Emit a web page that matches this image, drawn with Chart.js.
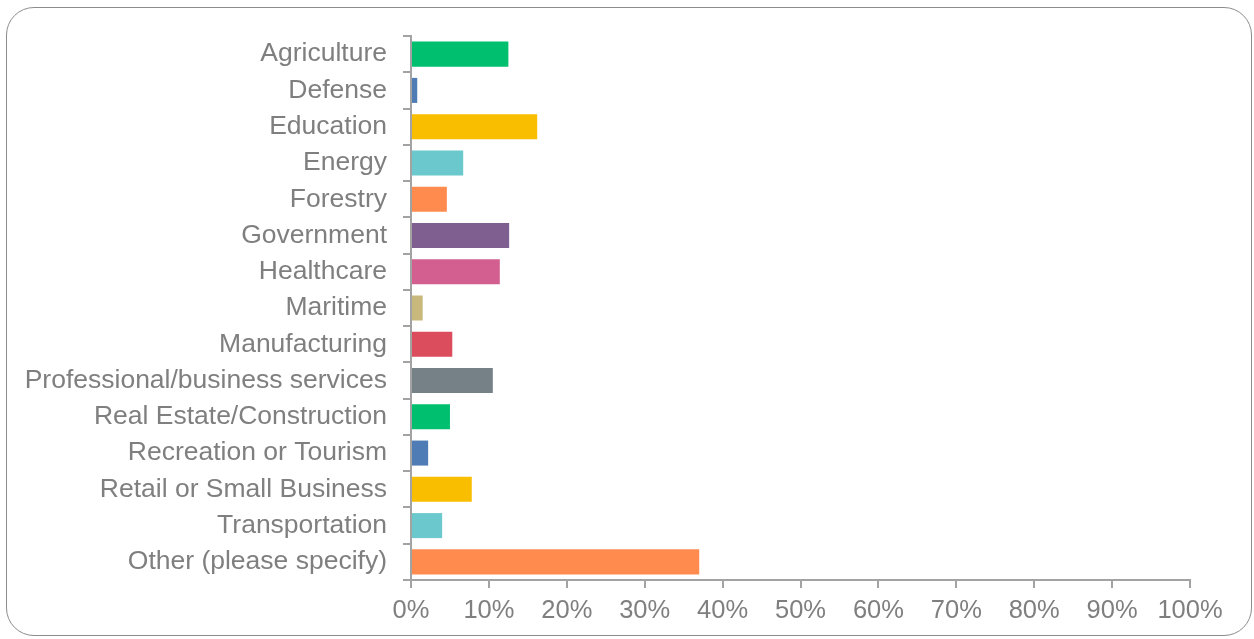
<!DOCTYPE html>
<html>
<head>
<meta charset="utf-8">
<title>Industry</title>
<script src="https://cdn.jsdelivr.net/npm/chart.js@4.4.0/dist/chart.umd.min.js"></script>
<style>
  html, body { margin: 0; padding: 0; background: #fff; }
  #frame {
    position: absolute; left: 6px; top: 7px; width: 1246px; height: 629px;
    border: 1px solid #8c8c8c; border-radius: 28px; box-sizing: border-box;
  }
  #industry-chart { position: absolute; left: 0; top: 0; }
</style>
</head>
<body>
<div id="frame"></div>
<canvas id="industry-chart" width="1254" height="639"></canvas>
<script>
// answer categories, top to bottom
const categories = [
    'Agriculture', 'Defense', 'Education', 'Energy', 'Forestry',
    'Government', 'Healthcare', 'Maritime', 'Manufacturing',
    'Professional/business services', 'Real Estate/Construction',
    'Recreation or Tourism', 'Retail or Small Business',
    'Transportation', 'Other (please specify)'
];

// percent of respondents
const shares = [12.5, 0.8, 16.2, 6.7, 4.6, 12.6, 11.4, 1.5, 5.3, 10.5, 5.0, 2.2, 7.8, 4.0, 37.0];

const xTickLabels = ['0%', '10%', '20%', '30%', '40%', '50%', '60%', '70%', '80%', '90%', '100%'];

// colours cycle after ten bars
const palette = ['#00BF6F', '#507CB6', '#F9BE00', '#6BC8CD', '#FF8B4F',
                 '#7F5F90', '#D25F90', '#C9B87B', '#DB4D5C', '#768087'];

const textGrey = '#7f7f7f';
const axisGrey = '#a3a3a3';
const fontFamily = 'Liberation Sans, Arial, sans-serif';

const ctx = document.getElementById('industry-chart');

new Chart(ctx, {
    type: 'bar',
    data: {
        labels: categories,
        datasets: [{
            data: shares,
            backgroundColor: categories.map((c, i) => palette[i % palette.length]),
            borderWidth: 0,
            barPercentage: 0.69,
            categoryPercentage: 1
        }]
    },
    options: {
        indexAxis: 'y',
        responsive: false,
        animation: false,
        layout: { padding: { left: 10, right: 64, top: 36, bottom: 0 } },
        plugins: {
            legend: { display: false },
            tooltip: { enabled: false }
        },
        scales: {
            y: {
                grid: {
                    offset: true,
                    drawOnChartArea: false,
                    tickLength: 8,
                    color: axisGrey,
                    lineWidth: 2
                },
                border: { color: axisGrey, width: 2 },
                ticks: {
                    color: textGrey,
                    font: { family: fontFamily, size: 26.5 },
                    padding: 16
                },
                afterFit: function(scale) { scale.width = 401; }
            },
            x: {
                min: 0,
                max: 100,
                grid: {
                    drawOnChartArea: false,
                    tickLength: 8,
                    color: axisGrey,
                    lineWidth: 2
                },
                border: { color: axisGrey, width: 2 },
                ticks: {
                    stepSize: 10,
                    color: textGrey,
                    font: { family: fontFamily, size: 25.5 },
                    padding: 8,
                    callback: function(value, index) { return xTickLabels[index]; }
                },
                afterFit: function(scale) { scale.height = 59; }
            }
        }
    }
});
</script>
</body>
</html>
